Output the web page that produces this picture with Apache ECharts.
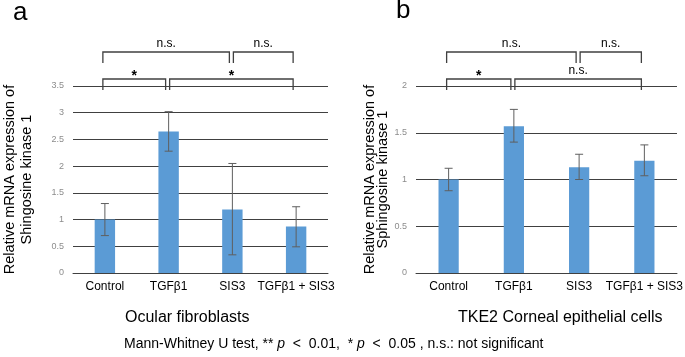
<!DOCTYPE html>
<html>
<head>
<meta charset="utf-8">
<script src="https://cdn.jsdelivr.net/npm/echarts@6/dist/echarts.min.js"></script>
<style>
  html, body { margin: 0; padding: 0; background: #fff; }
  #main { width: 685px; height: 357px; }
</style>
</head>
<body>
<div id="main"></div>
<script>
// groups on both panels
const categories = ['Control', 'TGFβ1', 'SIS3', 'TGFβ1 + SIS3'];

// panel a: ocular fibroblasts
const fibroMean = [1.0, 2.65, 1.19, 0.87];
const fibroLow = [0.70, 2.28, 0.34, 0.49];
const fibroHigh = [1.30, 3.02, 2.05, 1.24];
const fibroTicks = { min: 0, max: 3.5, interval: 0.5 };

// panel b: TKE2 corneal epithelial cells
const tkeMean = [1.0, 1.57, 1.13, 1.20];
const tkeLow = [0.88, 1.40, 1.00, 1.04];
const tkeHigh = [1.12, 1.75, 1.27, 1.37];
const tkeTicks = { min: 0, max: 2, interval: 0.5 };

// significance brackets: [from group, to group, level]
const bracketPairs = [[0, 1, 0], [1, 3, 0], [0, 2, 1], [2, 3, 1]];
const fibroMarks = ['*', '*', 'n.s.', 'n.s.'];
const tkeMarks = ['*', 'n.s.', 'n.s.', 'n.s.'];

const FONT = '"Liberation Sans", Arial, Helvetica, sans-serif';
const BAR = '#5b9bd5';
const LINE = '#404040';

var chart = echarts.init(document.getElementById('main'));

function errorRenderer(params, api) {
    var idx = api.value(0);
    var lo = api.coord([idx, api.value(1)]);
    var hi = api.coord([idx, api.value(2)]);
    var w = 4;
    var st = { stroke: '#5f5f5f', lineWidth: 1 };
    return {
        type: 'group',
        children: [
            { type: 'line', shape: { x1: hi[0], y1: hi[1], x2: lo[0], y2: lo[1] }, style: st },
            { type: 'line', shape: { x1: hi[0] - w, y1: hi[1], x2: hi[0] + w, y2: hi[1] }, style: st },
            { type: 'line', shape: { x1: lo[0] - w, y1: lo[1], x2: lo[0] + w, y2: lo[1] }, style: st }
        ]
    };
}

function bracketRenderer(marks) {
    return function (params, api) {
        var from = api.value(0), to = api.value(1), level = api.value(2);
        var top0 = params.coordSys.y;
        var x0 = api.coord([from, 0])[0] + (from > 0 ? 1 : -2);
        var x1 = api.coord([to, 0])[0] - 3;
        var yTop = level === 0 ? top0 - 7 : top0 - 34;
        var yEnd = yTop + 11;
        var mark = marks[params.dataIndex];
        var label = mark === '*'
            ? { text: mark, x: (x0 + x1) / 2, y: yTop - 10, align: 'center', verticalAlign: 'top',
                font: 'bold 14px ' + FONT, fill: '#000' }
            : { text: mark, x: (x0 + x1) / 2, y: yTop - 2, align: 'center', verticalAlign: 'bottom',
                font: '12px ' + FONT, fill: '#000' };
        return {
            type: 'group',
            children: [
                { type: 'polyline', shape: { points: [[x0, yEnd], [x0, yTop], [x1, yTop], [x1, yEnd]] },
                  style: { stroke: LINE, lineWidth: 1.3, fill: null } },
                { type: 'text', style: label }
            ]
        };
    };
}

function errData(lo, hi) {
    return lo.map(function (v, i) { return [i, v, hi[i]]; });
}

function xAxisFor(gi) {
    return {
        type: 'category', gridIndex: gi, data: categories,
        axisTick: { show: false },
        axisLine: { show: true, lineStyle: { color: LINE, width: 1 } },
        axisLabel: { color: '#000', fontSize: 12, fontFamily: FONT, margin: 8, interval: 0 }
    };
}

function yAxisFor(gi, ticks, name, gap, lh) {
    return {
        type: 'value', gridIndex: gi, min: ticks.min, max: ticks.max, interval: ticks.interval,
        name: name, nameLocation: 'middle', nameGap: gap, nameRotate: 90,
        nameTextStyle: { color: '#000', fontSize: 14.5, fontFamily: FONT, lineHeight: lh },
        axisLine: { show: false }, axisTick: { show: false },
        axisLabel: { color: '#8c8c8c', fontSize: 9, fontFamily: FONT, margin: 9 },
        splitLine: { lineStyle: { color: LINE, width: 1 } }
    };
}

var option = {
    animation: false,
    textStyle: { fontFamily: FONT },
    grid: [
        { left: 66, right: 357, top: 86, bottom: 84 },
        { left: 416, right: 0, top: 86, bottom: 84 }
    ],
    xAxis: [xAxisFor(0), xAxisFor(1)],
    yAxis: [
        yAxisFor(0, fibroTicks, 'Relative mRNA expression of\nShingosine kinase 1', 38, 17),
        yAxisFor(1, tkeTicks, 'Relative mRNA expression of\nSphingosine kinase 1', 24, 13)
    ],
    graphic: [
        { type: 'text', left: 13, top: 0, style: { text: 'a', font: '26px ' + FONT, fill: '#000' } },
        { type: 'text', left: 396, top: -2, style: { text: 'b', font: '26px ' + FONT, fill: '#000' } },
        { type: 'text', left: 125, top: 310, style: { text: 'Ocular fibroblasts', font: '16px ' + FONT, fill: '#000' } },
        { type: 'text', left: 458, top: 310, style: { text: 'TKE2 Corneal epithelial cells', font: '16px ' + FONT, fill: '#000' } },
        {
            type: 'text', left: 124, top: 337,
            style: {
                text: '{n|Mann-Whitney U test, ** }{i|p}{n|  <  0.01,  * }{i|p}{n|  <  0.05 , n.s.: not significant}',
                rich: {
                    n: { font: '14px ' + FONT, fill: '#000' },
                    i: { font: 'italic 14px ' + FONT, fill: '#000' }
                }
            }
        }
    ],
    series: [
        { type: 'bar', xAxisIndex: 0, yAxisIndex: 0, data: fibroMean, barWidth: '32%',
          itemStyle: { color: BAR } },
        { type: 'custom', xAxisIndex: 0, yAxisIndex: 0, data: errData(fibroLow, fibroHigh),
          encode: { x: 0, y: [1, 2] }, renderItem: errorRenderer, z: 5 },
        { type: 'custom', xAxisIndex: 0, yAxisIndex: 0, data: bracketPairs, clip: false,
          encode: { x: [0, 1], y: 2 }, renderItem: bracketRenderer(fibroMarks), z: 5 },
        { type: 'bar', xAxisIndex: 1, yAxisIndex: 1, data: tkeMean, barWidth: '31%',
          itemStyle: { color: BAR } },
        { type: 'custom', xAxisIndex: 1, yAxisIndex: 1, data: errData(tkeLow, tkeHigh),
          encode: { x: 0, y: [1, 2] }, renderItem: errorRenderer, z: 5 },
        { type: 'custom', xAxisIndex: 1, yAxisIndex: 1, data: bracketPairs, clip: false,
          encode: { x: [0, 1], y: 2 }, renderItem: bracketRenderer(tkeMarks), z: 5 }
    ]
};

chart.setOption(option);
</script>
</body>
</html>
